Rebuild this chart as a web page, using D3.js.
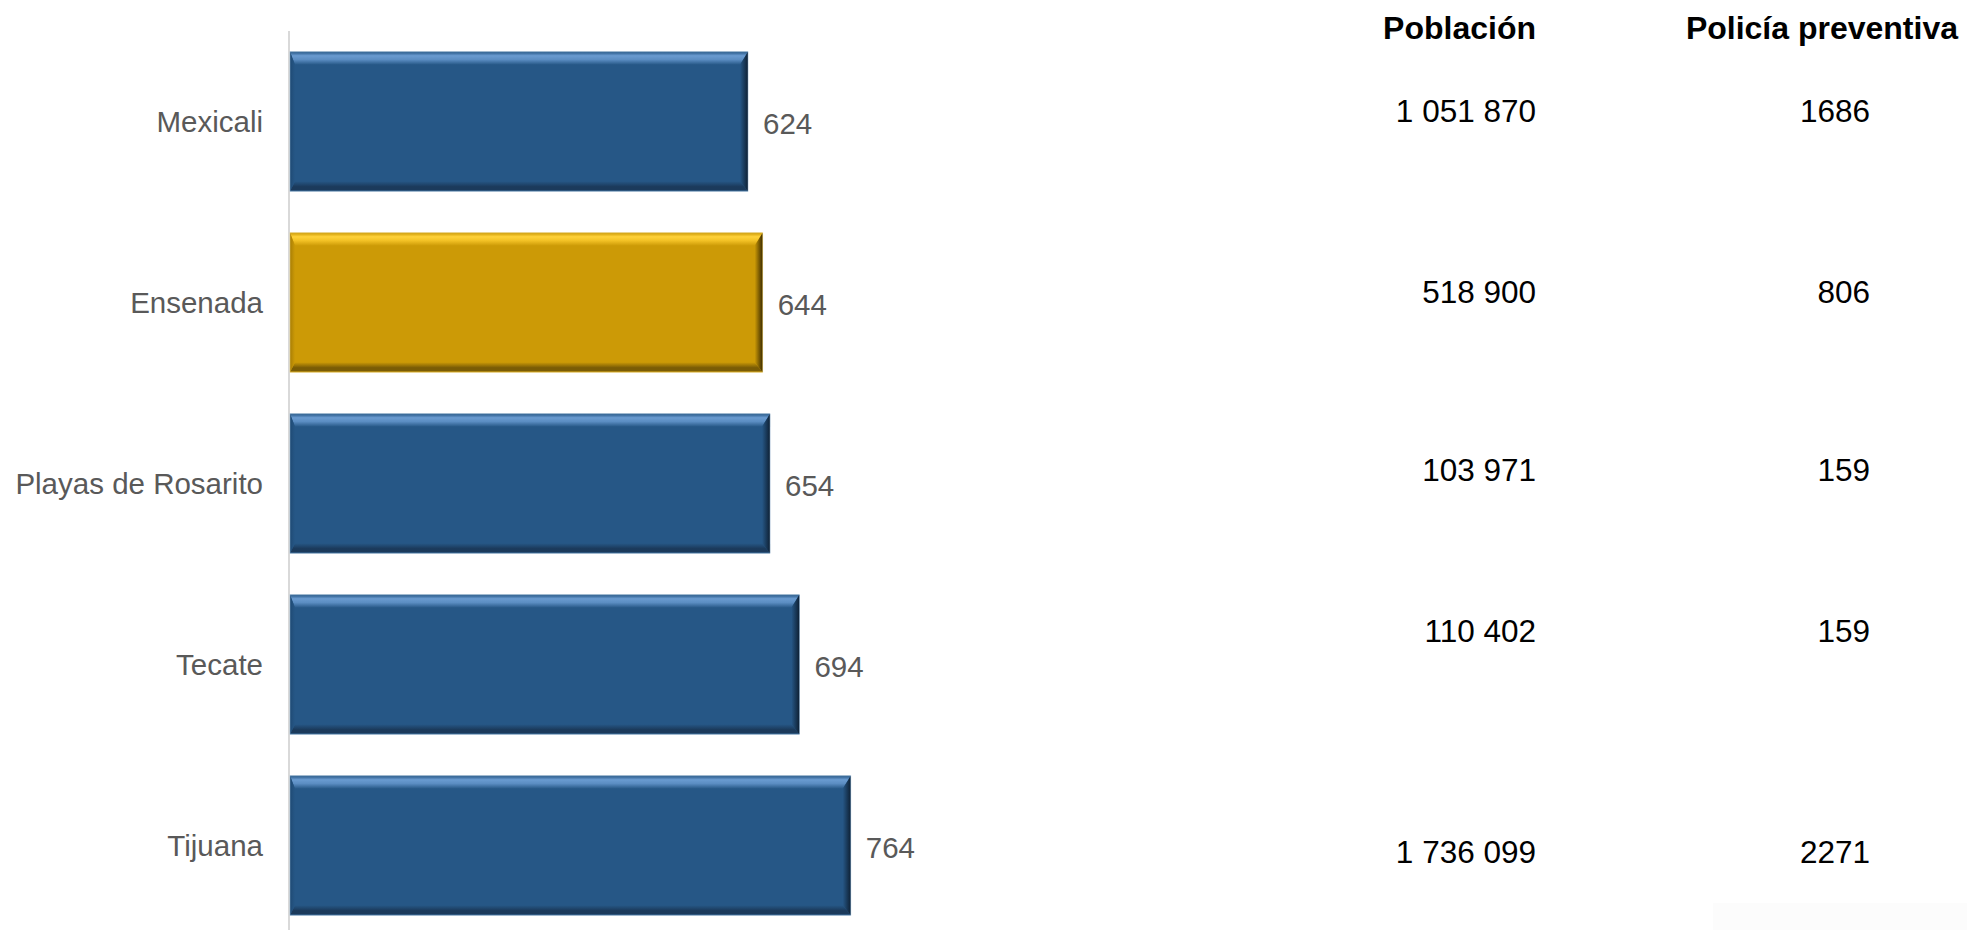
<!DOCTYPE html>
<html>
<head>
<meta charset="utf-8">
<script src="https://cdn.jsdelivr.net/npm/d3@7/dist/d3.min.js"></script>
<style>
  html, body { margin: 0; padding: 0; background: #ffffff; }
  svg { display: block; }
</style>
</head>
<body>
<svg id="chart" width="1967" height="930"></svg>
<script>
// ---- data ----
const categories = ["Mexicali", "Ensenada", "Playas de Rosarito", "Tecate", "Tijuana"];
const values = [624, 644, 654, 694, 764];
const highlighted = ["Ensenada"];
const poblacion = ["1 051 870", "518 900", "103 971", "110 402", "1 736 099"];
const policia = ["1686", "806", "159", "159", "2271"];
const tableHeaders = ["Población", "Policía preventiva"];
// baselines of table rows (the source table does not align with bars)
const tableRowY = [122, 303, 481, 642, 863];

// ---- layout ----
const svg = d3.select("#chart");
const W = 1967, H = 930;

const x = d3.scaleLinear().domain([0, 1000]).range([290, 1024]);
const y = d3.scaleBand().domain(categories).range([31, 936]).paddingInner(0.23).paddingOuter(0.115);

const defs = svg.append("defs");
const palettes = {
  blue: { base: "#265786", light: "#5b8dc2", lighter: "#6a9bd0", dark: "#0e2033", bottom: "#1b3a5b", left: "#1f4a74" },
  gold: { base: "#cc9a06", light: "#f2c125", lighter: "#ffd23a", dark: "#3a2a00", bottom: "#7a5c05", left: "#a87e05" }
};
Object.entries(palettes).forEach(([k, p]) => {
  const gt = defs.append("linearGradient").attr("id", "top-" + k).attr("x1", 0).attr("y1", 0).attr("x2", 0).attr("y2", 1);
  gt.append("stop").attr("offset", "0%").attr("stop-color", p.base);
  gt.append("stop").attr("offset", "30%").attr("stop-color", p.lighter);
  gt.append("stop").attr("offset", "60%").attr("stop-color", p.light);
  gt.append("stop").attr("offset", "100%").attr("stop-color", p.base);
  const gr = defs.append("linearGradient").attr("id", "right-" + k).attr("x1", 0).attr("y1", 0).attr("x2", 1).attr("y2", 0);
  gr.append("stop").attr("offset", "0%").attr("stop-color", p.base);
  gr.append("stop").attr("offset", "100%").attr("stop-color", p.dark);
  const gb = defs.append("linearGradient").attr("id", "bottom-" + k).attr("x1", 0).attr("y1", 0).attr("x2", 0).attr("y2", 1);
  gb.append("stop").attr("offset", "0%").attr("stop-color", p.base);
  gb.append("stop").attr("offset", "55%").attr("stop-color", p.bottom);
  gb.append("stop").attr("offset", "85%").attr("stop-color", p.bottom);
  gb.append("stop").attr("offset", "100%").attr("stop-color", p.base);
  const gl = defs.append("linearGradient").attr("id", "left-" + k).attr("x1", 0).attr("y1", 0).attr("x2", 1).attr("y2", 0);
  gl.append("stop").attr("offset", "0%").attr("stop-color", p.left);
  gl.append("stop").attr("offset", "100%").attr("stop-color", p.base);
});

// faint box bottom right (as in source)
svg.append("rect").attr("x", 1713).attr("y", 903).attr("width", W - 1713).attr("height", H - 903).attr("fill", "#fcfcfc");

// axis line
svg.append("line")
  .attr("x1", x(0) - 1).attr("x2", x(0) - 1)
  .attr("y1", 31).attr("y2", H)
  .attr("stroke", "#d9d9d9").attr("stroke-width", 2);

// bars with bevel
const bT = 13, bR = 8, bB = 10, bL = 5;
const g = svg.append("g").selectAll("g.bar").data(categories).join("g").attr("class", "bar");
g.each(function (c, i) {
  const k = highlighted.includes(c) ? "gold" : "blue";
  const p = palettes[k];
  const x0 = x(0), x1 = x(values[i]);
  const y0 = y(c), y1 = y(c) + y.bandwidth();
  const sel = d3.select(this);
  sel.append("rect").attr("x", x0).attr("y", y0).attr("width", x1 - x0).attr("height", y1 - y0).attr("fill", p.base);
  const poly = pts => pts.map(d => d.join(",")).join(" ");
  // top
  sel.append("polygon").attr("points", poly([[x0, y0], [x1, y0], [x1 - bR, y0 + bT], [x0 + bL, y0 + bT]]))
    .attr("fill", `url(#top-${k})`);
  // bottom
  sel.append("polygon").attr("points", poly([[x0 + bL, y1 - bB], [x1 - bR, y1 - bB], [x1, y1], [x0, y1]]))
    .attr("fill", `url(#bottom-${k})`);
  // left
  sel.append("polygon").attr("points", poly([[x0, y0], [x0 + bL, y0 + bT], [x0 + bL, y1 - bB], [x0, y1]]))
    .attr("fill", `url(#left-${k})`);
  // right
  sel.append("polygon").attr("points", poly([[x1 - bR, y0 + bT], [x1, y0], [x1, y1], [x1 - bR, y1 - bB]]))
    .attr("fill", `url(#right-${k})`);
  // thin light outline
  sel.append("rect").attr("x", x0).attr("y", y0).attr("width", x1 - x0).attr("height", y1 - y0)
    .attr("fill", "none").attr("stroke", k === "blue" ? "#8fb0cf" : "#e8cf7a").attr("stroke-width", 0.8).attr("stroke-opacity", 0.6);
});

// category labels
svg.append("g").selectAll("text").data(categories).join("text")
  .attr("x", 263)
  .attr("y", d => y(d) + y.bandwidth() / 2)
  .attr("dy", "0.37em")
  .attr("text-anchor", "end")
  .attr("font-family", "Liberation Sans, Arial, sans-serif")
  .attr("font-size", 29.5)
  .attr("fill", "#595959")
  .text(d => d);

// value labels
svg.append("g").selectAll("text").data(categories).join("text")
  .attr("x", (d, i) => x(values[i]) + 15)
  .attr("y", d => y(d) + y.bandwidth() / 2)
  .attr("dy", "0.42em")
  .attr("font-family", "Liberation Sans, Arial, sans-serif")
  .attr("font-size", 29.5)
  .attr("fill", "#595959")
  .text((d, i) => values[i]);

// table
const colRight = [1536, 1958];
svg.append("g").selectAll("text").data(tableHeaders).join("text")
  .attr("x", (d, i) => colRight[i])
  .attr("y", 39)
  .attr("text-anchor", "end")
  .attr("font-family", "Liberation Sans, Arial, sans-serif")
  .attr("font-weight", "bold")
  .attr("font-size", 32)
  .attr("fill", "#000")
  .text(d => d);

svg.append("g").selectAll("text").data(poblacion).join("text")
  .attr("x", 1536)
  .attr("y", (d, i) => tableRowY[i])
  .attr("text-anchor", "end")
  .attr("font-family", "Liberation Sans, Arial, sans-serif")
  .attr("font-size", 31.5)
  .attr("fill", "#000")
  .text(d => d);

svg.append("g").selectAll("text").data(policia).join("text")
  .attr("x", 1870)
  .attr("y", (d, i) => tableRowY[i])
  .attr("text-anchor", "end")
  .attr("font-family", "Liberation Sans, Arial, sans-serif")
  .attr("font-size", 31.5)
  .attr("fill", "#000")
  .text(d => d);
</script>
</body>
</html>
